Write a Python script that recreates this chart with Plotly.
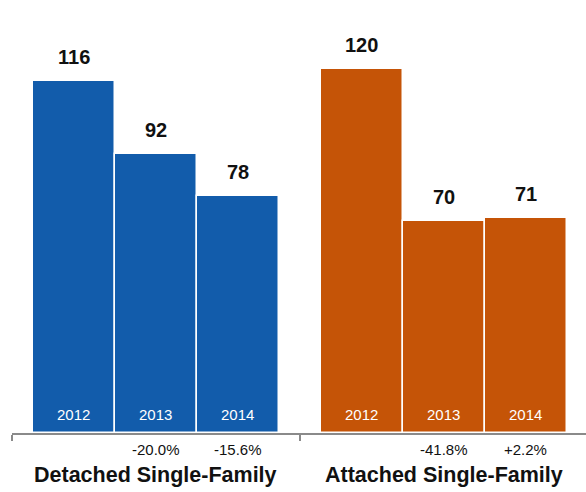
import plotly.graph_objects as go

# Sales by housing type, three years each
groups = ["Detached Single-Family", "Attached Single-Family"]
years = ["2012", "2013", "2014"]
detached = [116, 92, 78]
attached = [120, 70, 71]
detached_change = ["", "-20.0%", "-15.6%"]
attached_change = ["", "-41.8%", "+2.2%"]

series = [detached, attached]
changes = [detached_change, attached_change]
colors = ["#125cab", "#c55407"]

# layout in bar-width units: each group band holds three touching bars plus side padding
BAND = 3.512
PAD = 0.256

fig = go.Figure()
annotations = []
font_family = "Liberation Sans, Arial, Helvetica, sans-serif"

for g, (name, vals, chg, col) in enumerate(zip(groups, series, changes, colors)):
    xs = [g * BAND + PAD + i + 0.5 for i in range(len(years))]
    fig.add_trace(go.Bar(
        x=xs, y=vals, width=[1] * len(xs),
        marker=dict(color=col, line=dict(color="white", width=1.5)),
        name=name, showlegend=False, hoverinfo="skip",
    ))
    for x, v, yr, c in zip(xs, vals, years, chg):
        annotations.append(dict(x=x, y=v, text=f"<b>{v}</b>", showarrow=False,
                                yanchor="middle", yshift=24,
                                font=dict(size=20, color="#111", family=font_family)))
        annotations.append(dict(x=x, y=0, text=yr, showarrow=False,
                                yanchor="middle", yshift=19,
                                font=dict(size=15, color="white", family=font_family)))
        if c:
            annotations.append(dict(x=x, y=0, text=c, showarrow=False,
                                    yanchor="middle", yshift=-16,
                                    font=dict(size=15, color="#111", family=font_family)))
    annotations.append(dict(x=g * BAND + BAND / 2, y=0, text=f"<b>{name}</b>",
                            showarrow=False, yanchor="middle", yshift=-42,
                            font=dict(size=21.5, color="#111", family=font_family)))

fig.update_layout(
    width=586, height=492,
    margin=dict(l=12, r=0, t=0, b=59),
    paper_bgcolor="white", plot_bgcolor="white",
    bargap=0,
    annotations=annotations,
    xaxis=dict(range=[0, 7.0], showgrid=False, zeroline=False,
               showline=True, linecolor="#8a8a8a", linewidth=2,
               tickmode="array", tickvals=[0, BAND], ticks="outside",
               ticklen=6, tickwidth=2, tickcolor="#8a8a8a",
               showticklabels=False),
    yaxis=dict(range=[0, 142.7], showgrid=False, zeroline=False,
               showline=False, showticklabels=False),
)

fig.write_html("out.html")
